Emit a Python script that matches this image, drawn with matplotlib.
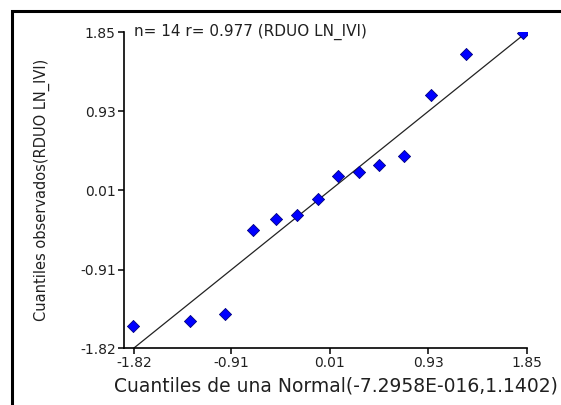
#QQ plot normal - RDUO LN_IVI
import numpy as np
import matplotlib.pyplot as plt
from matplotlib.patches import Rectangle

plt.rcParams['font.family'] = ['DejaVu Sans']

# cuantiles teoricos (normal) y observados
q_normal = [-1.827, -1.297, -0.970, -0.706, -0.494, -0.295, -0.105,
            0.088, 0.284, 0.470, 0.704, 0.953, 1.280, 1.809]
q_obs = [-1.565, -1.503, -1.429, -0.450, -0.322, -0.275, -0.090,
         0.181, 0.228, 0.309, 0.414, 1.118, 1.594, 1.842]
ticks = [-1.82, -0.91, 0.01, 0.93, 1.85]
tick_labels = ['-1.82', '-0.91', '0.01', '0.93', '1.85']

W, H = 561, 405
fig = plt.figure(figsize=(W/100, H/100), dpi=100)
ax = fig.add_axes([124/W, 1-348/H, (527-124)/W, (348-32)/H])

# marco de la figura
fig.patches.append(Rectangle((12/W, -0.1), 1.2, 1-11/H+0.1, transform=fig.transFigure,
                             fill=False, edgecolor='black', linewidth=2.2))

# recta y = x entre el primer y ultimo cuantil teorico
xr = np.array([q_normal[0], q_normal[-1]])
ax.plot(xr, xr, color='#222222', linewidth=0.9)
ax.scatter(q_normal, q_obs, marker='D', s=38, color='#0000ff', edgecolors='#000080',
           linewidths=0.6, zorder=3)

ax.set_xlim(-1.913, 1.85)
ax.set_ylim(-1.82, 1.85)
ax.set_xticks(ticks)
ax.set_xticklabels(tick_labels)
ax.set_yticks(ticks)
ax.set_yticklabels(tick_labels)
ax.spines['top'].set_visible(False)
ax.spines['right'].set_visible(False)
for s in ['left', 'bottom']:
    ax.spines[s].set_linewidth(1.2)
ax.tick_params(direction='out', length=4, width=1.1, labelsize=10, colors='black',
               labelcolor='#202020', pad=2)

ax.text(-1.82, 1.85, 'n= 14 r= 0.977 (RDUO LN_IVI)', fontsize=11, color='#202020',
        va='center', ha='left')
ax.set_xlabel('Cuantiles de una Normal(-7.2958E-016,1.1402)', fontsize=13.5, color='#202020',
              va='center')
ax.set_ylabel('Cuantiles observados(RDUO LN_IVI)', fontsize=10.5, color='#202020',
              va='center')
ax.xaxis.set_label_coords(0.527, -0.12)
ax.yaxis.set_label_coords(-0.203, 0.5)

plt.savefig('out.png', dpi=100)
